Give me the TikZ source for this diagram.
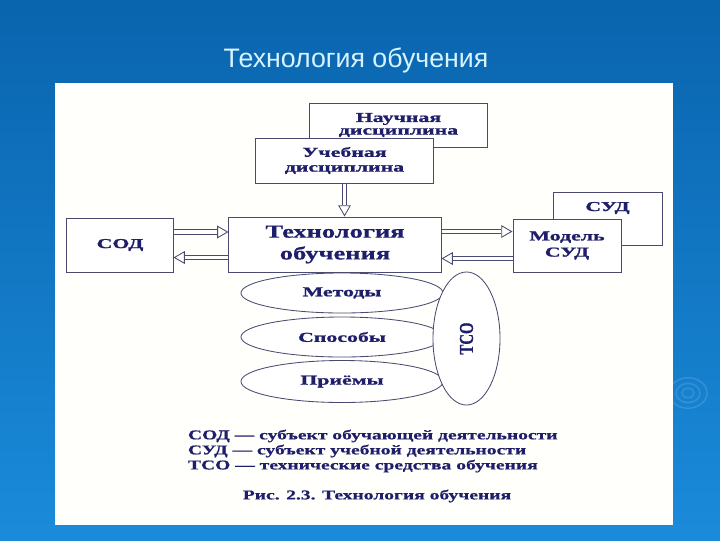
\documentclass[tikz,border=0pt]{standalone}
\usepackage{fontspec}
\setmainfont{Liberation Serif}
\newfontfamily\slidefont{Liberation Sans}
\newfontfamily\wideserif{Liberation Serif}[UprightFont=* Bold,FakeStretch=1.45,FakeBold=0.6]
\newfontfamily\broadserif{Liberation Serif}[UprightFont=* Bold,FakeStretch=1.6,FakeBold=1.2]
\newfontfamily\narrowserif{Liberation Serif}[UprightFont=* Bold,FakeStretch=0.75,FakeBold=0.6]
\usetikzlibrary{arrows.meta,shapes.geometric}
\definecolor{slidetop}{HTML}{0A64AE}
\definecolor{slidebottom}{HTML}{1A8BDA}
\definecolor{panel}{HTML}{FFFFFB}
\definecolor{ink}{HTML}{1E1E6A}
\definecolor{boxline}{HTML}{4A4A72}
\definecolor{titletext}{HTML}{D6F3FF}

\begin{document}
\begin{tikzpicture}[x=0.025cm,y=-0.025cm,
 box/.style={draw=boxline,fill=white,line width=0.7pt,inner sep=0pt,align=center,text=ink,
  font=\broadserif\fontsize{9.7}{11.5}\selectfont},
 oval/.style={ellipse,draw=boxline,fill=white,line width=0.6pt,inner sep=0pt,text=ink,
  font=\broadserif\fontsize{9.7}{11.5}\selectfont},
 hollow/.style={draw=boxline,double=white,double distance=2.6pt,line width=0.6pt,
  -{Triangle[open,length=8pt,width=9pt]}},
 legend/.style={text=ink,font=\wideserif\fontsize{9.6}{10.7}\selectfont}]
\def\rowup{0.325cm}
\fill[top color=slidetop,bottom color=slidebottom] (0,0) rectangle (720,540);
\foreach\r in {6,12,19}{
 \draw[white,opacity=0.12,line width=1.2pt] (688,393) ellipse ({\r*0.025cm} and {\r*0.02cm});
}
\node (title) [text=titletext,font=\slidefont\fontsize{19}{21}\selectfont] at (356,60) {Технология обучения};
\fill[panel] (55,83) rectangle (673,525);
\node (nauch) [box,minimum width=4.425cm,minimum height=1.1cm] at (398.5,125) {Научная\\[-2.5pt]дисциплина};
\node (ucheb) [box,minimum width=4.425cm,minimum height=1.125cm] at (344.5,160.5) {Учебная\\[-1pt]дисциплина};
\node (tech) [box,minimum width=5.3cm,minimum height=1.375cm,font=\wideserif\fontsize{13}{15.5}\selectfont] at (335,244.5) {Технология\\обучения};
\node (sod) [box,minimum width=2.65cm,minimum height=1.35cm] at (120,245) {СОД};
\node (sud) [box,minimum width=2.725cm,minimum height=1.325cm] at (607.5,218.5) {\raisebox{0.6cm}{СУД}};
\node (model) [box,minimum width=2.7cm,minimum height=1.325cm] at (567,245.5) {Модель\\СУД};
\draw[hollow] (ucheb.south) -- (ucheb.south |- tech.north);
\draw[hollow] ([yshift=\rowup]sod.east) -- ([yshift=\rowup]sod.east -| tech.west);
\draw[hollow] ([yshift=-\rowup]tech.west) -- ([yshift=-\rowup]tech.west -| sod.east);
\draw[hollow] ([yshift=\rowup]tech.east) -- ([yshift=\rowup]tech.east -| model.west);
\draw[hollow] ([yshift=-\rowup]model.west) -- ([yshift=-\rowup]model.west -| tech.east);
\node (metody) [oval,minimum width=5.05cm,minimum height=1.0cm] at (342,293) {Методы};
\node (sposoby) [oval,minimum width=5.05cm,minimum height=1.0cm] at (342,337) {Способы};
\node (priemy) [oval,minimum width=5.05cm,minimum height=1.05cm] at (342,381.5) {Приёмы};
\node (tso) [oval,rotate=90,minimum width=3.325cm,minimum height=1.675cm,font=\narrowserif\fontsize{14}{16}\selectfont] at (466.5,338.5) {ТСО};
\node (key) [legend,anchor=west,align=left] at (183,451) {СОД — субъект обучающей деятельности\\СУД — субъект учебной деятельности\\ТСО — технические средства обучения};
\node (caption) [legend] at (377,496) {Рис. 2.3. Технология обучения};
\end{tikzpicture}
\end{document}
